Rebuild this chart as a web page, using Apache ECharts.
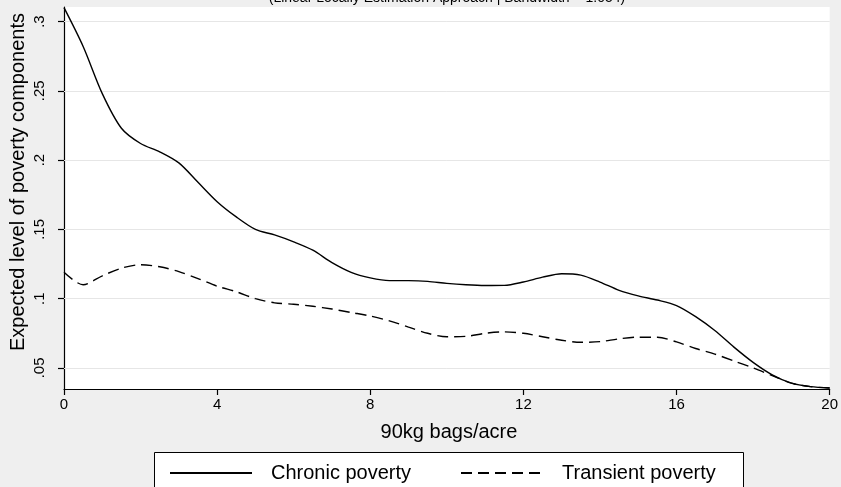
<!DOCTYPE html>
<html>
<head>
<meta charset="utf-8">
<script src="https://cdn.jsdelivr.net/npm/echarts@6/dist/echarts.min.js"></script>
<style>
html, body { margin: 0; padding: 0; background: #efefef; }
#box { width: 841px; height: 487px; }
</style>
</head>
<body>
<div id="box"></div>
<script>
// fertilizer use, 90kg bags per acre
var bags = [0, 0.5, 1, 1.5, 2, 2.5, 3, 3.5, 4, 4.5, 5, 5.5, 6, 6.5, 7, 7.5, 8, 8.5, 9, 9.5,
    10, 10.5, 11, 11.5, 12, 12.5, 13, 13.5, 14, 14.5, 15, 15.5, 16, 16.5, 17, 17.5, 18, 18.5, 19, 19.5, 20];
var chronic = [0.310, 0.282, 0.248, 0.223, 0.212, 0.206, 0.198, 0.184, 0.170, 0.159,
    0.150, 0.146, 0.141, 0.135, 0.126, 0.119, 0.115, 0.113, 0.113, 0.1125,
    0.111, 0.110, 0.1095, 0.1096, 0.112, 0.1155, 0.118, 0.117, 0.112, 0.106,
    0.102, 0.099, 0.095, 0.087, 0.077, 0.065, 0.054, 0.045, 0.039, 0.0365, 0.0355];
var transient = [0.119, 0.110, 0.1165, 0.122, 0.1245, 0.123, 0.1195, 0.1145, 0.109, 0.105,
    0.100, 0.097, 0.096, 0.0945, 0.0925, 0.090, 0.0875, 0.084, 0.0795, 0.075,
    0.0725, 0.0728, 0.075, 0.076, 0.075, 0.0725, 0.070, 0.0685, 0.069, 0.071,
    0.0722, 0.0722, 0.0688, 0.064, 0.060, 0.055, 0.050, 0.0445, 0.039, 0.0365, 0.0355];
var yTicks = [0.05, 0.1, 0.15, 0.2, 0.25, 0.3];

function pairs(ys) {
    var out = [];
    for (var i = 0; i < bags.length; i++) out.push([bags[i], ys[i]]);
    return out;
}

var font = 'Liberation Sans, Arial, sans-serif';
var myChart = echarts.init(document.getElementById('box'));
var legendText = { fontSize: 20, color: '#000', fontFamily: font, padding: [0, 0, 0, 14] };
var option = {
    backgroundColor: '#efefef',
    animation: false,
    textStyle: { fontFamily: font, color: '#000' },
    grid: {
        left: 64, right: 6, top: 7, bottom: 98,
        show: true, backgroundColor: '#fff', borderWidth: 0
    },
    xAxis: {
        type: 'value', min: 0, max: 20, interval: 4,
        axisLine: { lineStyle: { color: '#000', width: 1.2 } },
        axisTick: { length: 6, lineStyle: { color: '#000', width: 1.2 } },
        axisLabel: { fontSize: 15, color: '#000', margin: 8, fontFamily: font },
        splitLine: { show: false }
    },
    yAxis: {
        type: 'value', min: 0.0348, max: 0.3105,
        axisLine: { show: true, lineStyle: { color: '#000', width: 1.2 } },
        axisTick: { show: true, length: 6, customValues: yTicks, lineStyle: { color: '#000', width: 1.2 } },
        axisLabel: {
            customValues: yTicks, rotate: 90, fontSize: 15, color: '#000', margin: 17, fontFamily: font,
            formatter: function (v) { return String(v).replace(/^0\./, '.'); }
        },
        splitLine: { show: false }
    },
    legend: [
        {
            data: ['Chronic poverty'], left: 164, top: 458, itemWidth: 82, itemHeight: 14,
            itemStyle: { opacity: 0 }, textStyle: legendText
        },
        {
            data: ['Transient poverty'], left: 455, top: 458, itemWidth: 82, itemHeight: 14,
            itemStyle: { opacity: 0 }, textStyle: legendText
        }
    ],
    graphic: [
        {
            type: 'rect', left: 154, top: 452, z: 0,
            shape: { width: 589, height: 50 },
            style: { fill: '#fff', stroke: '#000', lineWidth: 1 }
        },
        {
            type: 'text', x: 447, y: -9,
            style: {
                text: '(Linear Locally Estimation Approach | Bandwidth = 1.054)',
                font: '14px ' + font, fill: '#000', align: 'center'
            }
        },
        {
            type: 'text', x: 449, y: 432,
            style: { text: '90kg bags/acre', font: '20px ' + font, fill: '#000', align: 'center', verticalAlign: 'middle' }
        },
        {
            type: 'text', x: 18, y: 182, rotation: Math.PI / 2,
            style: {
                text: 'Expected level of poverty components', font: '20px ' + font,
                fill: '#000', align: 'center', verticalAlign: 'middle'
            }
        }
    ],
    series: [
        {
            name: 'Chronic poverty', type: 'line', smooth: 0.3, symbol: 'none',
            data: pairs(chronic),
            lineStyle: { color: '#000', width: 1.4, type: 'solid' },
            itemStyle: { color: '#000' },
            markLine: {
                silent: true, z: 1, symbol: ['none', 'none'], label: { show: false },
                lineStyle: { color: '#e6e6e6', width: 1, type: 'solid' },
                data: yTicks.map(function (v) { return { yAxis: v }; })
            }
        },
        {
            name: 'Transient poverty', type: 'line', smooth: 0.3, symbol: 'none',
            data: pairs(transient),
            lineStyle: { color: '#000', width: 1.4, type: [11, 6] },
            itemStyle: { color: '#000' }
        }
    ]
};
myChart.setOption(option);
</script>
</body>
</html>
